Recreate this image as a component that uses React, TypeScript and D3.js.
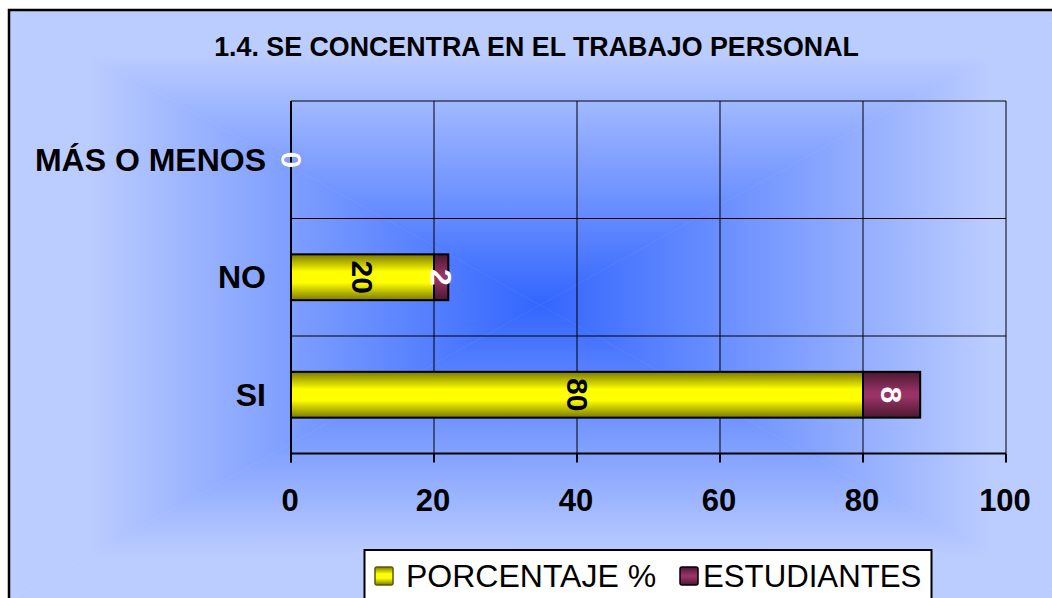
import * as d3 from "d3";

const categories = ["MÁS O MENOS", "NO", "SI"];
const porcentaje = [0, 20, 80];
const estudiantes = [0, 2, 8];
const xTicks = [0, 20, 40, 60, 80, 100];
const seriesNames = ["PORCENTAJE %", "ESTUDIANTES"];

const W = 1052;
const H = 598;
const font = "'Liberation Sans', Arial, sans-serif";

// chart area (goes past the window on the right and bottom)
const area = { x0: 9, y0: 10, x1: 1071, y1: 600 };
const cx = 540;
const cy = 305;
const edgeColor = "#BBCCFF";
const centerColor = "#3366FF";

const plot = { left: 291, right: 1006, top: 101, bottom: 453.5 };

export default function App() {
  const x = d3.scaleLinear().domain([0, 100]).range([plot.left, plot.right]);
  const y = d3
    .scaleBand<string>()
    .domain(categories)
    .range([plot.top, plot.bottom])
    .padding(0);
  const barH = y.bandwidth() * 0.39;

  const rows = categories.map((c, i) => ({
    cat: c,
    p: porcentaje[i],
    e: estudiantes[i],
  }));
  const stacked = d3.stack<{ cat: string; p: number; e: number }>().keys(["p", "e"])(rows);
  const fills = ["url(#gYellow)", "url(#gPurple)"];
  const labelColors = ["#000", "#fff"];

  // rectangular "from center" gradient, built from 4 triangles
  const tri = [
    { id: "bgTop", pts: [[area.x0, area.y0], [area.x1, area.y0], [cx, cy]], g: [0, area.y0, 0, cy] },
    { id: "bgBottom", pts: [[area.x0, area.y1], [area.x1, area.y1], [cx, cy]], g: [0, area.y1, 0, cy] },
    { id: "bgLeft", pts: [[area.x0, area.y0], [area.x0, area.y1], [cx, cy]], g: [area.x0, 0, cx, 0] },
    { id: "bgRight", pts: [[area.x1, area.y0], [area.x1, area.y1], [cx, cy]], g: [area.x1, 0, cx, 0] },
  ];

  return (
    <svg
      width={W}
      height={H}
      style={{ position: "absolute", left: 0, top: 0, background: "#fff" }}
      fontFamily={font}
    >
      <defs>
        {tri.map((t) => (
          <linearGradient
            key={t.id}
            id={t.id}
            gradientUnits="userSpaceOnUse"
            x1={t.g[0] || 0}
            y1={t.g[1] || 0}
            x2={t.g[2] || 0}
            y2={t.g[3] || 0}
          >
            <stop offset="0" stopColor={edgeColor} />
            <stop offset="0.15" stopColor={edgeColor} />
            <stop offset="1" stopColor={centerColor} />
          </linearGradient>
        ))}
        <linearGradient id="gYellow" x1="0" y1="0" x2="0" y2="1">
          <stop offset="0" stopColor="#7A7A00" />
          <stop offset="0.38" stopColor="#FFFF00" />
          <stop offset="0.62" stopColor="#FFFF00" />
          <stop offset="1" stopColor="#7A7A00" />
        </linearGradient>
        <linearGradient id="gPurple" x1="0" y1="0" x2="0" y2="1">
          <stop offset="0" stopColor="#4A1830" />
          <stop offset="0.45" stopColor="#993366" />
          <stop offset="0.55" stopColor="#993366" />
          <stop offset="1" stopColor="#4A1830" />
        </linearGradient>
      </defs>

      {tri.map((t) => (
        <polygon
          key={t.id}
          points={t.pts.map((p) => p.join(",")).join(" ")}
          fill={`url(#${t.id})`}
          stroke={`url(#${t.id})`}
          strokeWidth={0.6}
        />
      ))}
      <rect
        x={area.x0}
        y={area.y0}
        width={area.x1 - area.x0}
        height={area.y1 - area.y0}
        fill="none"
        stroke="#000"
        strokeWidth={2.5}
      />

      <text
        x={536.5}
        y={56}
        textAnchor="middle"
        fontSize={26.8}
        fontWeight="bold"
      >
        1.4. SE CONCENTRA EN EL TRABAJO PERSONAL
      </text>

      {/* gridlines */}
      {xTicks.slice(1).map((t) => (
        <line key={`vg${t}`} x1={x(t)} x2={x(t)} y1={plot.top} y2={plot.bottom} stroke="#000" strokeWidth={1} />
      ))}
      {categories.map((c) => (
        <line
          key={`hg${c}`}
          x1={plot.left}
          x2={plot.right}
          y1={y(c)}
          y2={y(c)}
          stroke="#000"
          strokeWidth={1}
        />
      ))}

      {/* bars */}
      {stacked.map((s, si) =>
        s.map((d, i) => {
          const yy = (y(categories[i]) ?? 0) + (y.bandwidth() - barH) / 2;
          const w = x(d[1]) - x(d[0]);
          if (w <= 0) return null;
          return (
            <rect
              key={`b${si}-${i}`}
              x={x(d[0])}
              y={yy}
              width={w}
              height={barH}
              fill={fills[si]}
              stroke="#000"
              strokeWidth={2}
            />
          );
        })
      )}

      {/* axes */}
      <line x1={plot.left} x2={plot.left} y1={plot.top} y2={plot.bottom + 9} stroke="#000" strokeWidth={2} />
      <line x1={plot.left} x2={plot.right} y1={plot.bottom} y2={plot.bottom} stroke="#000" strokeWidth={2} />
      {xTicks.map((t) => (
        <g key={`xt${t}`}>
          <line x1={x(t)} x2={x(t)} y1={plot.bottom} y2={plot.bottom + 9} stroke="#000" strokeWidth={2} />
          <text x={x(t) - 1} y={511} textAnchor="middle" fontSize={31} fontWeight="bold">
            {t}
          </text>
        </g>
      ))}
      {categories.map((c) => (
        <text
          key={`yl${c}`}
          x={266}
          y={(y(c) ?? 0) + y.bandwidth() / 2}
          textAnchor="end"
          dominantBaseline="central"
          fontSize={32}
          fontWeight="bold"
        >
          {c}
        </text>
      ))}

      {/* value labels, rotated */}
      {stacked.map((s, si) =>
        s.map((d, i) => {
          const lx = (x(d[0]) + x(d[1])) / 2;
          const ly = (y(categories[i]) ?? 0) + y.bandwidth() / 2;
          return (
            <text
              key={`v${si}-${i}`}
              transform={`translate(${lx},${ly}) rotate(90)`}
              textAnchor="middle"
              dominantBaseline="central"
              fontSize={30}
              fontWeight="bold"
              fill={labelColors[si]}
            >
              {d[1] - d[0]}
            </text>
          );
        })
      )}

      {/* legend */}
      <rect x={364.5} y={550} width={567} height={54} fill="#fff" stroke="#000" strokeWidth={2} />
      {[
        { kx: 375, tx: 406, size: 32, name: seriesNames[0], fill: fills[0], stroke: "#5a5a00" },
        { kx: 680, tx: 703, size: 31.2, name: seriesNames[1], fill: fills[1], stroke: "#000" },
      ].map((l) => (
        <g key={l.name}>
          <rect x={l.kx} y={567} width={18} height={18} rx={2} fill={l.fill} stroke={l.stroke} strokeWidth={1.5} />
          <text x={l.tx} y={587} fontSize={l.size}>
            {l.name}
          </text>
        </g>
      ))}
    </svg>
  );
}
